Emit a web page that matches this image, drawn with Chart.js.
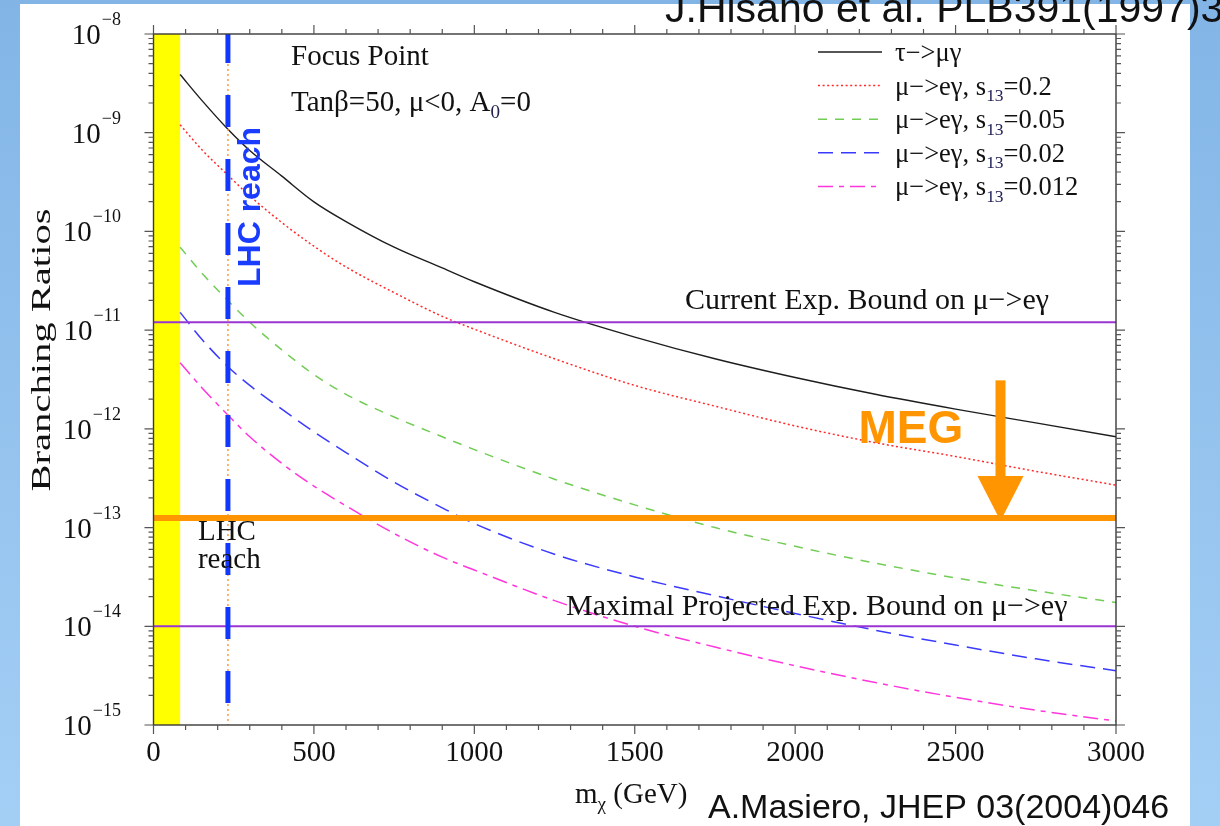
<!DOCTYPE html>
<html><head><meta charset="utf-8">
<script src="https://cdn.jsdelivr.net/npm/chart.js@4.4.0/dist/chart.umd.min.js"></script>
<style>
html,body{margin:0;padding:0;background:#fff;}
canvas{display:block;}
</style></head><body>
<canvas id="c" width="1220" height="826"></canvas>
<script>
// ---------------- data (log10 of branching ratio) ----------------
const massGeV = [83,150,232,300,400,500,600,750,900,1000,1250,1500,1750,2000,2250,2500,2750,3000];
const logBrTauMuGamma   = [-8.41,-8.67,-8.965,-9.18,-9.44,-9.70,-9.90,-10.16,-10.37,-10.51,-10.82,-11.07,-11.29,-11.48,-11.65,-11.80,-11.94,-12.08];
const logBrMuEGamma020  = [-8.92,-9.17,-9.43,-9.64,-9.91,-10.15,-10.36,-10.62,-10.86,-10.99,-11.29,-11.56,-11.77,-11.97,-12.14,-12.28,-12.43,-12.57];
const logBrMuEGamma005  = [-10.16,-10.42,-10.70,-10.92,-11.20,-11.45,-11.65,-11.88,-12.08,-12.21,-12.51,-12.77,-13.00,-13.19,-13.36,-13.51,-13.64,-13.76];
const logBrMuEGamma002  = [-10.82,-11.09,-11.37,-11.56,-11.80,-12.03,-12.24,-12.54,-12.80,-12.96,-13.27,-13.50,-13.69,-13.87,-14.04,-14.19,-14.33,-14.45];
const logBrMuEGamma0012 = [-11.33,-11.58,-11.86,-12.08,-12.35,-12.58,-12.78,-13.06,-13.30,-13.43,-13.74,-14.00,-14.21,-14.40,-14.57,-14.72,-14.85,-14.96];
const seriesNames = ['τ−>μγ','μ−>eγ, s_{13}=0.2','μ−>eγ, s_{13}=0.05','μ−>eγ, s_{13}=0.02','μ−>eγ, s_{13}=0.012'];
const xTickLabels = [0,500,1000,1500,2000,2500,3000];
const yTickExponents = [-8,-9,-10,-11,-12,-13,-14,-15];
const currentBound = 1.2e-11;
const projectedBound = 1e-14;
const megBound = 1.25e-13;
const megArrowMass = 2640;
const megArrowTop = 3.1e-12;
const lhcReachMass = 232;
const excludedMass = [0, 83];
const xRange = [0, 3000];
const yRange = [1e-15, 1e-8];

// ---------------- helpers ----------------
const SERIF = '"Liberation Serif","Times New Roman",serif';
const SANS = '"Liberation Sans",Arial,sans-serif';
function rich(ctx, str, x, y, size, opts) {
  opts = opts || {};
  const family = opts.family || SERIF;
  const color = opts.color || '#111';
  const subColor = opts.subColor || color;
  const parts = str.split(/(_\{[^}]*\}|\^\{[^}]*\})/).filter(s => s.length);
  const segs = parts.map(p => {
    if (p.startsWith('_{')) return {t:p.slice(2,-1), s:size*0.66, dy:size*0.24, c:subColor};
    if (p.startsWith('^{')) return {t:p.slice(2,-1), s:size*0.64, dy:-size*0.42, c:color};
    return {t:p, s:size, dy:0, c:color};
  });
  let total = 0;
  segs.forEach(sg => { ctx.font = sg.s + 'px ' + family; sg.w = ctx.measureText(sg.t).width; total += sg.w; });
  let cx = opts.align === 'right' ? x - total : (opts.align === 'center' ? x - total/2 : x);
  ctx.textAlign = 'left'; ctx.textBaseline = 'alphabetic';
  segs.forEach(sg => { ctx.font = sg.s + 'px ' + family; ctx.fillStyle = sg.c; ctx.fillText(sg.t, cx, y + sg.dy); cx += sg.w; });
  return total;
}

const pts = arr => massGeV.map((m, i) => ({x: m, y: Math.pow(10, arr[i])}));
const curveStyles = [
  {color:'#1e1e1e', dash:[], width:1.4},
  {color:'#ff2b2b', dash:[2,2.6], width:1.5},
  {color:'#72cc55', dash:[9,8], width:1.5},
  {color:'#3a3aff', dash:[15,8], width:1.5},
  {color:'#ff36dc', dash:[15,6,5,6], width:1.5}
];
const curveData = [logBrTauMuGamma, logBrMuEGamma020, logBrMuEGamma005, logBrMuEGamma002, logBrMuEGamma0012];
const datasets = curveData.map((arr, i) => ({
  label: seriesNames[i], data: pts(arr), borderColor: curveStyles[i].color,
  borderDash: curveStyles[i].dash, borderWidth: curveStyles[i].width,
  pointRadius: 0, cubicInterpolationMode: 'monotone', fill: false, order: 10, isCurve: true
}));
const hLine = (v, color, w, order) => ({label:'', data:[{x:xRange[0],y:v},{x:xRange[1],y:v}], borderColor:color, borderWidth:w, pointRadius:0, tension:0, order:order});
datasets.push(hLine(currentBound, '#9a35d4', 2, 6));
datasets.push(hLine(projectedBound, '#9a35d4', 2, 6));
datasets.push(hLine(megBound, '#ff9500', 6, 4));
datasets.push({label:'', data:[{x:lhcReachMass,y:yRange[1]},{x:lhcReachMass,y:yRange[0]}], borderColor:'#ff9a3a', borderWidth:1.5, borderDash:[2,3], pointRadius:0, tension:0, order:3});
datasets.push({label:'', data:[{x:lhcReachMass,y:yRange[1]},{x:lhcReachMass,y:yRange[0]}], borderColor:'#1238ff', borderWidth:5, borderDash:[32,32], borderDashOffset:3, pointRadius:0, tension:0, order:1});

const annot = {
  id: 'annot',
  beforeDraw(chart) {
    const ctx = chart.ctx, W = chart.width, H = chart.height;
    const g = ctx.createLinearGradient(0, 0, 0, H);
    g.addColorStop(0, '#82b5e6'); g.addColorStop(1, '#a4cff5');
    ctx.fillStyle = g; ctx.fillRect(0, 0, W, H);
    ctx.fillStyle = '#ffffff'; ctx.fillRect(20, 4, 1170, H - 4);
    const xs = chart.scales.x, ca = chart.chartArea;
    const x0 = xs.getPixelForValue(excludedMass[0]), x1 = xs.getPixelForValue(excludedMass[1]);
    ctx.fillStyle = '#ffff00';
    ctx.fillRect(x0, ca.top, x1 - x0, ca.bottom - ca.top);
  },
  afterDraw(chart) {
    const ctx = chart.ctx, xs = chart.scales.x, ys = chart.scales.y, ca = chart.chartArea;
    ctx.save();
    ctx.strokeStyle = '#3a3a3a'; ctx.lineWidth = 1.4;
    ctx.strokeRect(ca.left, ca.top, ca.right - ca.left, ca.bottom - ca.top);
    ctx.lineWidth = 1.2; ctx.strokeStyle = '#555';
    xs.ticks.forEach(t => {
      const px = xs.getPixelForValue(t.value);
      const L = xTickLabels.includes(t.value) ? 9 : 5;
      ctx.beginPath();
      ctx.moveTo(px, ca.bottom); ctx.lineTo(px, ca.bottom + L);
      ctx.moveTo(px, ca.top); ctx.lineTo(px, ca.top - L);
      ctx.stroke();
    });
    xTickLabels.forEach(v => {
      rich(ctx, String(v), xs.getPixelForValue(v), ca.bottom + 36, 29, {align:'center'});
    });
    yTickExponents.forEach(e => {
      const major = Math.pow(10, e);
      const py = ys.getPixelForValue(major);
      ctx.beginPath();
      ctx.moveTo(ca.left, py); ctx.lineTo(ca.left - 9, py);
      ctx.moveTo(ca.right, py); ctx.lineTo(ca.right + 9, py);
      ctx.stroke();
      for (let m = 2; m <= 9; m++) {
        const v = m * major;
        if (v >= yRange[1]) break;
        const p = ys.getPixelForValue(v);
        ctx.beginPath();
        ctx.moveTo(ca.left, p); ctx.lineTo(ca.left - 5, p);
        ctx.moveTo(ca.right, p); ctx.lineTo(ca.right + 5, p);
        ctx.stroke();
      }
      ctx.font = '18px ' + SERIF;
      const ew = ctx.measureText('−' + Math.abs(e)).width;
      ctx.fillStyle = '#111'; ctx.textAlign = 'left';
      ctx.fillText('−' + Math.abs(e), 121 - ew, py - 9);
      ctx.font = '29px ' + SERIF; ctx.textAlign = 'right';
      ctx.fillText('10', 121 - ew - 1, py + 10);
    });
    // axis titles
    rich(ctx, 'm_{χ} (GeV)', 575, 803, 29);
    ctx.save();
    ctx.translate(50, 350); ctx.rotate(-Math.PI/2); ctx.scale(1.45, 1);
    ctx.font = '28px ' + SERIF; ctx.fillStyle = '#111'; ctx.textAlign = 'center'; ctx.textBaseline = 'alphabetic';
    ctx.fillText('Branching Ratios', 0, 0);
    ctx.restore();
    // plot annotations
    rich(ctx, 'Focus Point', 291, 65, 29);
    rich(ctx, 'Tanβ=50, μ<0, A_{0}=0', 291, 111, 29, {subColor:'#22224a'});
    rich(ctx, 'Current Exp. Bound on μ−>eγ', 685, ys.getPixelForValue(currentBound) - 13, 30);
    rich(ctx, 'Maximal Projected Exp. Bound on μ−>eγ', 566, ys.getPixelForValue(projectedBound) - 11, 30);
    const lx = xs.getPixelForValue(lhcReachMass);
    rich(ctx, 'LHC', lx - 30, 540, 29);
    rich(ctx, 'reach', lx - 30, 568, 29);
    ctx.save();
    ctx.translate(lx + 32, 287); ctx.rotate(-Math.PI/2);
    ctx.font = 'bold 32px ' + SANS; ctx.fillStyle = '#1a3cff'; ctx.textAlign = 'left';
    ctx.fillText('LHC reach', 0, 0);
    ctx.restore();
    // MEG arrow
    const ax = xs.getPixelForValue(megArrowMass);
    const aTop = ys.getPixelForValue(megArrowTop), aTip = ys.getPixelForValue(megBound) + 3;
    ctx.fillStyle = '#ff9500';
    ctx.fillRect(ax - 5, aTop, 10, aTip - 44 - aTop);
    ctx.beginPath(); ctx.moveTo(ax - 23, aTip - 45); ctx.lineTo(ax + 23, aTip - 45); ctx.lineTo(ax, aTip); ctx.closePath(); ctx.fill();
    ctx.font = 'bold 46px ' + SANS; ctx.textAlign = 'left';
    ctx.fillText('MEG', ax - 142, aTop + 63);
    // legend
    chart.data.datasets.filter(d => d.isCurve).forEach((d, i) => {
      const yy = 52 + i * 33.6;
      ctx.save();
      ctx.strokeStyle = d.borderColor; ctx.lineWidth = d.borderWidth; ctx.setLineDash(d.borderDash);
      ctx.beginPath(); ctx.moveTo(818, yy); ctx.lineTo(882, yy); ctx.stroke();
      ctx.restore();
      rich(ctx, d.label, 895, yy + 9, 26.5, {subColor:'#22225a'});
    });
    // citations
    ctx.font = '41px ' + SANS; ctx.fillStyle = '#111'; ctx.textAlign = 'left';
    ctx.fillText('J.Hisano et al. PLB391(1997)351', 665, 22);
    ctx.font = '34px ' + SANS;
    ctx.fillText('A.Masiero, JHEP 03(2004)046', 708, 818);
    ctx.restore();
  }
};

new Chart(document.getElementById('c'), {
  type: 'line',
  data: { datasets: datasets },
  options: {
    responsive: false, animation: false, devicePixelRatio: 1, events: [],
    layout: { padding: { top: 34, right: 104, left: 0, bottom: 0 } },
    plugins: { legend: { display: false }, tooltip: { enabled: false }, title: { display: false } },
    scales: {
      x: { type: 'linear', min: xRange[0], max: xRange[1],
           ticks: { display: false, stepSize: 100 }, grid: { display: false }, border: { display: false },
           afterFit(s) { s.height = 101; } },
      y: { type: 'logarithmic', min: yRange[0], max: yRange[1],
           ticks: { display: false }, grid: { display: false }, border: { display: false },
           afterFit(s) { s.width = 153.5; } }
    }
  },
  plugins: [annot]
});
</script>
</body></html>
